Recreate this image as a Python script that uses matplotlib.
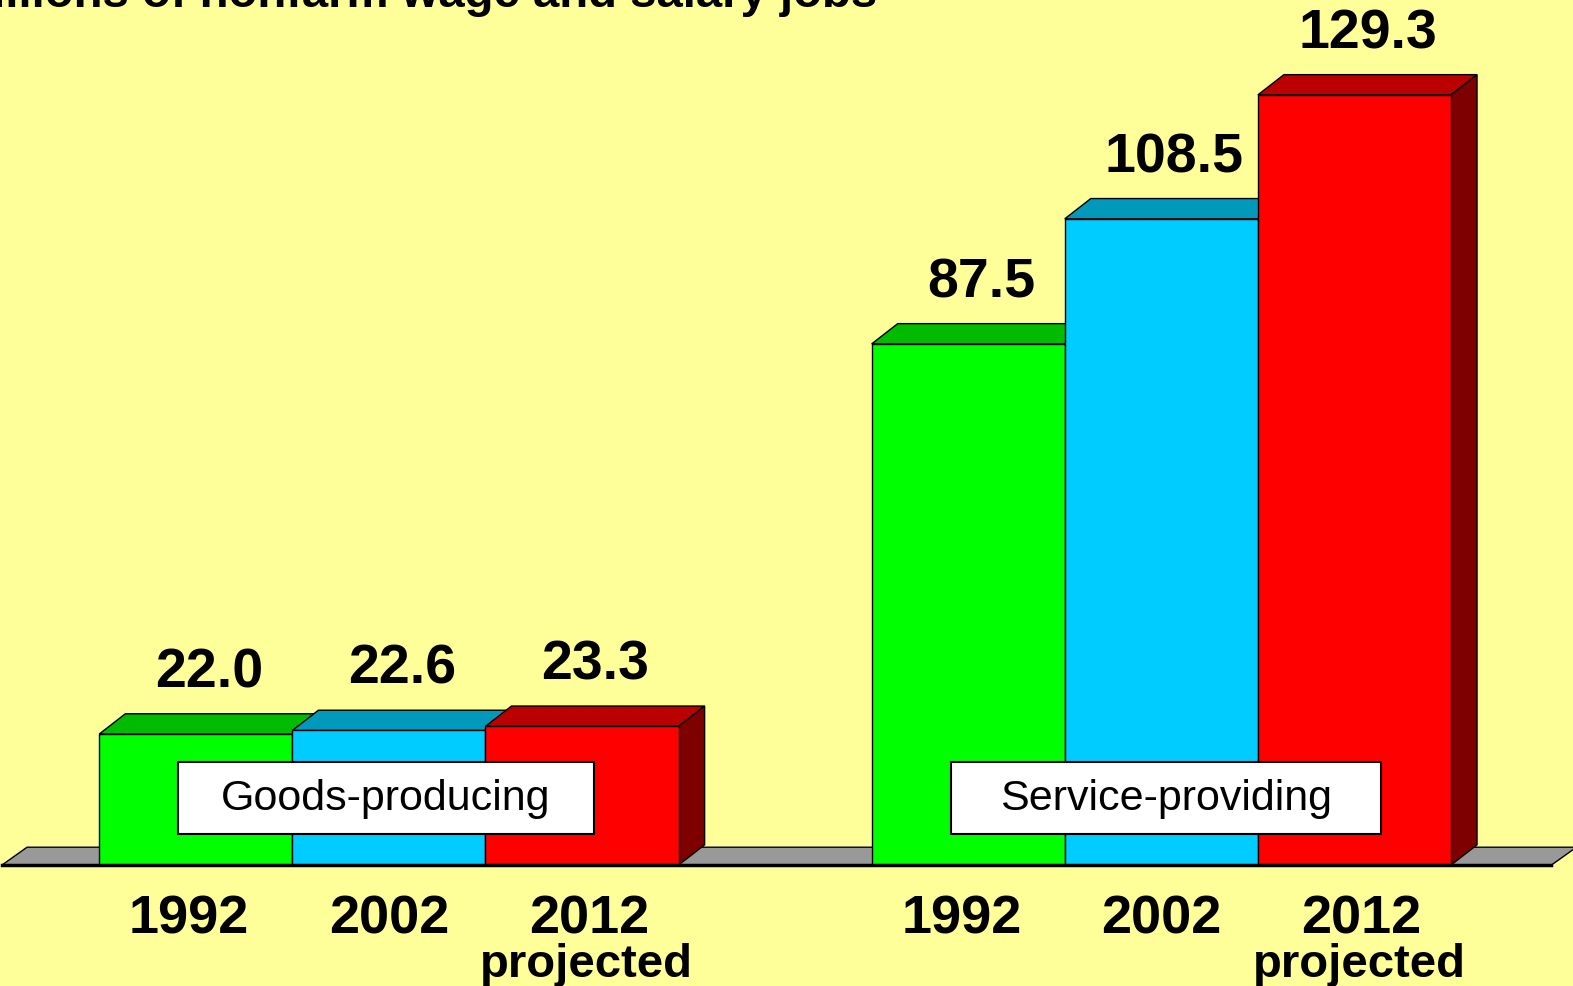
import matplotlib.pyplot as plt
from matplotlib.patches import Polygon, Rectangle

plt.rcParams["font.family"] = ["Liberation Sans", "DejaVu Sans"]

## Data

groups = ["Goods-producing", "Service-providing"]
years = ["1992", "2002", "2012"]
year_notes = ["", "", "projected"]
goods_jobs = [22.0, 22.6, 23.3]
service_jobs = [87.5, 108.5, 129.3]

front_colors = ["#00ff00", "#00ccff", "#ff0000"]
top_colors = ["#00bb00", "#0099bb", "#bb0000"]
side_colors = ["#007f00", "#00667f", "#7f0000"]

DX, DY = 0.135, 3.4  # fake 3d depth (x in bar widths, y in millions)

fig = plt.figure(figsize=(15.73, 9.87), dpi=100)
fig.patch.set_facecolor("#ffff99")
ax = fig.add_axes([0, 0, 1, 1])
ax.set_xlim(-0.514, 7.632)
ax.set_ylim(-20.3, 145.4)
ax.axis("off")

## Floor

fl, fr = -0.504, 7.52
floor = Polygon(
    [(fl, 0), (fr, 0), (fr + 0.13, 3.0), (fl + 0.13, 3.0)],
    closed=True, facecolor="#999999", edgecolor="black", lw=1, zorder=1,
)
ax.add_patch(floor)

## Bars

z = 2
for g, vals in enumerate([goods_jobs, service_jobs]):
    for j, v in enumerate(vals):
        x0 = g * 4 + j
        top = Polygon(
            [(x0, v), (x0 + 1, v), (x0 + 1 + DX, v + DY), (x0 + DX, v + DY)],
            closed=True, facecolor=top_colors[j], edgecolor="black", lw=1, zorder=z,
        )
        side = Polygon(
            [(x0 + 1, 0), (x0 + 1 + DX, DY), (x0 + 1 + DX, v + DY), (x0 + 1, v)],
            closed=True, facecolor=side_colors[j], edgecolor="black", lw=1, zorder=z,
        )
        front = Rectangle((x0, 0), 1, v, facecolor=front_colors[j],
                          edgecolor="black", lw=1, zorder=z + 1)
        ax.add_patch(top)
        ax.add_patch(side)
        ax.add_patch(front)
        z += 2

        ax.text(x0 + 0.5 + DX / 2, v + DY + 4.6, f"{v:.1f}", ha="center",
                va="baseline", fontsize=40, fontweight="bold")

        # year labels are spaced a little wider than the bars
        tx = g * 4 + 1.5 + (j - 1) * 1.035
        ax.text(tx, -11.3, years[j], ha="center", va="baseline",
                fontsize=39, fontweight="bold")
        if year_notes[j]:
            ax.text(tx - 0.01, -18.6, year_notes[j], ha="center", va="baseline",
                    fontsize=34, fontweight="bold")

ax.plot([fl, fr], [0, 0], color="black", lw=2.5, zorder=50)

## Group labels

box_w = [2.15, 2.23]
for g, name in enumerate(groups):
    bx = g * 4 + 0.41
    ax.add_patch(Rectangle((bx, 5.2), box_w[g], 12.1, facecolor="white",
                           edgecolor="black", lw=1.5, zorder=60))
    ax.text(bx + box_w[g] / 2, 11.2, name, ha="center", va="center",
            fontsize=31, zorder=61)

fig.text(877 / 1573, 1 - 7 / 987, "Millions of nonfarm wage and salary jobs",
         ha="right", va="baseline", fontsize=34, fontweight="bold")

fig.savefig("out.png", dpi=100, facecolor=fig.get_facecolor())
